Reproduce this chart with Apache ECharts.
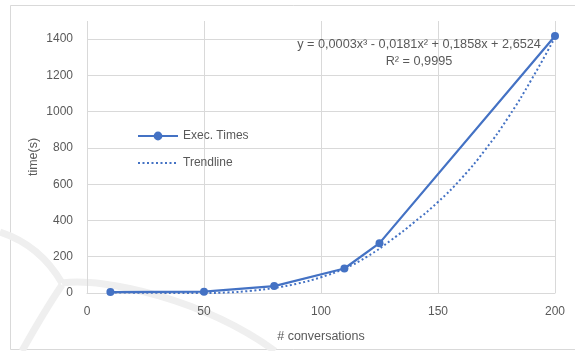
<!DOCTYPE html>
<html>
<head>
<meta charset="utf-8">
<script src="https://cdn.jsdelivr.net/npm/echarts@6/dist/echarts.min.js"></script>
<style>
html,body{margin:0;padding:0;background:#fff;}
#chart{width:575px;height:351px;}
</style>
</head>
<body>
<div id="chart"></div>
<script>
// Data
const conversations = [10, 50, 80, 110, 125, 200];
const execTimes = [5, 7, 38, 135, 275, 1417];
const trendX = [10, 20, 30, 40, 50, 60, 70, 80, 90, 100, 110, 120, 130, 140, 150, 160, 170, 180, 190, 200];
const trendY = [3, 2, 1, 0, 0, 3, 12, 28, 52, 87, 135, 203, 292, 392, 502, 632, 787, 968, 1178, 1410];
const xTicks = [0, 50, 100, 150, 200];
const yTicks = [0, 200, 400, 600, 800, 1000, 1200, 1400];
const equationText = 'y = 0,0003x³ - 0,0181x² + 0,1858x + 2,6524';
const r2Text = 'R² = 0,9995';

const blue = '#4472C4';
const grey = '#595959';
const gridGrey = '#d9d9d9';
const font = 'Liberation Sans, Arial, sans-serif';

const chart = echarts.init(document.getElementById('chart'));
chart.setOption({
  animation: false,
  backgroundColor: '#fff',
  textStyle: { fontFamily: font },
  grid: { left: 87, right: 20, top: 21, bottom: 58, containLabel: false },
  xAxis: {
    type: 'value', min: xTicks[0], max: xTicks[xTicks.length - 1], interval: 50,
    name: '# conversations', nameLocation: 'middle', nameGap: 37, nameMoveOverlap: false,
    nameTextStyle: { color: grey, fontSize: 12.5, fontFamily: font },
    axisLine: { show: true, lineStyle: { color: gridGrey, width: 1 } },
    axisTick: { show: false },
    axisLabel: { color: grey, fontSize: 12, margin: 13, fontFamily: font },
    splitLine: { show: true, lineStyle: { color: gridGrey, width: 1 } }
  },
  yAxis: {
    type: 'value', min: 0, max: 1500, interval: 200,
    name: 'time(s)', nameLocation: 'middle', nameGap: 47, nameRotate: 90, nameMoveOverlap: false,
    nameTextStyle: { color: grey, fontSize: 12.5, fontFamily: font },
    axisLine: { show: false },
    axisTick: { show: false },
    axisLabel: {
      color: grey, fontSize: 12, margin: 14, fontFamily: font,
      formatter: v => (yTicks.indexOf(v) >= 0 ? String(v) : '')
    },
    splitLine: { show: true, showMaxLine: false, lineStyle: { color: gridGrey, width: 1 } }
  },
  legend: {
    orient: 'vertical', left: 137, top: 130, padding: 0,
    itemWidth: 40, itemHeight: 11, itemGap: 15,
    textStyle: { color: grey, fontSize: 12, fontFamily: font },
    data: [
      { name: 'Exec. Times' },
      { name: 'Trendline', itemStyle: { opacity: 0 } }
    ]
  },
  series: [
    {
      name: 'Trendline', type: 'line', smooth: true, symbol: 'none',
      data: trendX.map((x, i) => [x, trendY[i]]),
      lineStyle: { color: blue, width: 2, type: [2, 2.5] },
      itemStyle: { color: blue }, z: 2
    },
    {
      name: 'Exec. Times', type: 'line', symbol: 'circle', symbolSize: 8,
      data: conversations.map((x, i) => [x, execTimes[i]]),
      lineStyle: { color: blue, width: 2.25 },
      itemStyle: { color: blue }, z: 3
    }
  ],
  graphic: [
    { type: 'rect', z: -10, shape: { x: 10.5, y: 5.5, width: 570, height: 344 },
      style: { fill: 'none', stroke: '#d9d9d9', lineWidth: 1 }, silent: true },
    { type: 'bezierCurve', z: -5, shape: { x1: 0, y1: 232, x2: 62, y2: 283, cpx1: 40, cpy1: 245 },
      style: { stroke: '#efefef', lineWidth: 7, fill: 'none' }, silent: true },
    { type: 'bezierCurve', z: -5, shape: { x1: 62, y1: 283, x2: 275, y2: 351, cpx1: 105, cpy1: 277, cpx2: 205, cpy2: 300 },
      style: { stroke: '#efefef', lineWidth: 7, fill: 'none' }, silent: true },
    { type: 'bezierCurve', z: -5, shape: { x1: 62, y1: 285, x2: 22, y2: 351, cpx1: 45, cpy1: 310 },
      style: { stroke: '#efefef', lineWidth: 7, fill: 'none' }, silent: true },
    { type: 'text', z: 10, x: 419, y: 44,
      style: { text: equationText, fill: grey, fontSize: 12.7, fontFamily: font, textAlign: 'center', textVerticalAlign: 'middle' } },
    { type: 'text', z: 10, x: 419, y: 61,
      style: { text: r2Text, fill: grey, fontSize: 12.7, fontFamily: font, textAlign: 'center', textVerticalAlign: 'middle' } }
  ]
});
</script>
</body>
</html>
